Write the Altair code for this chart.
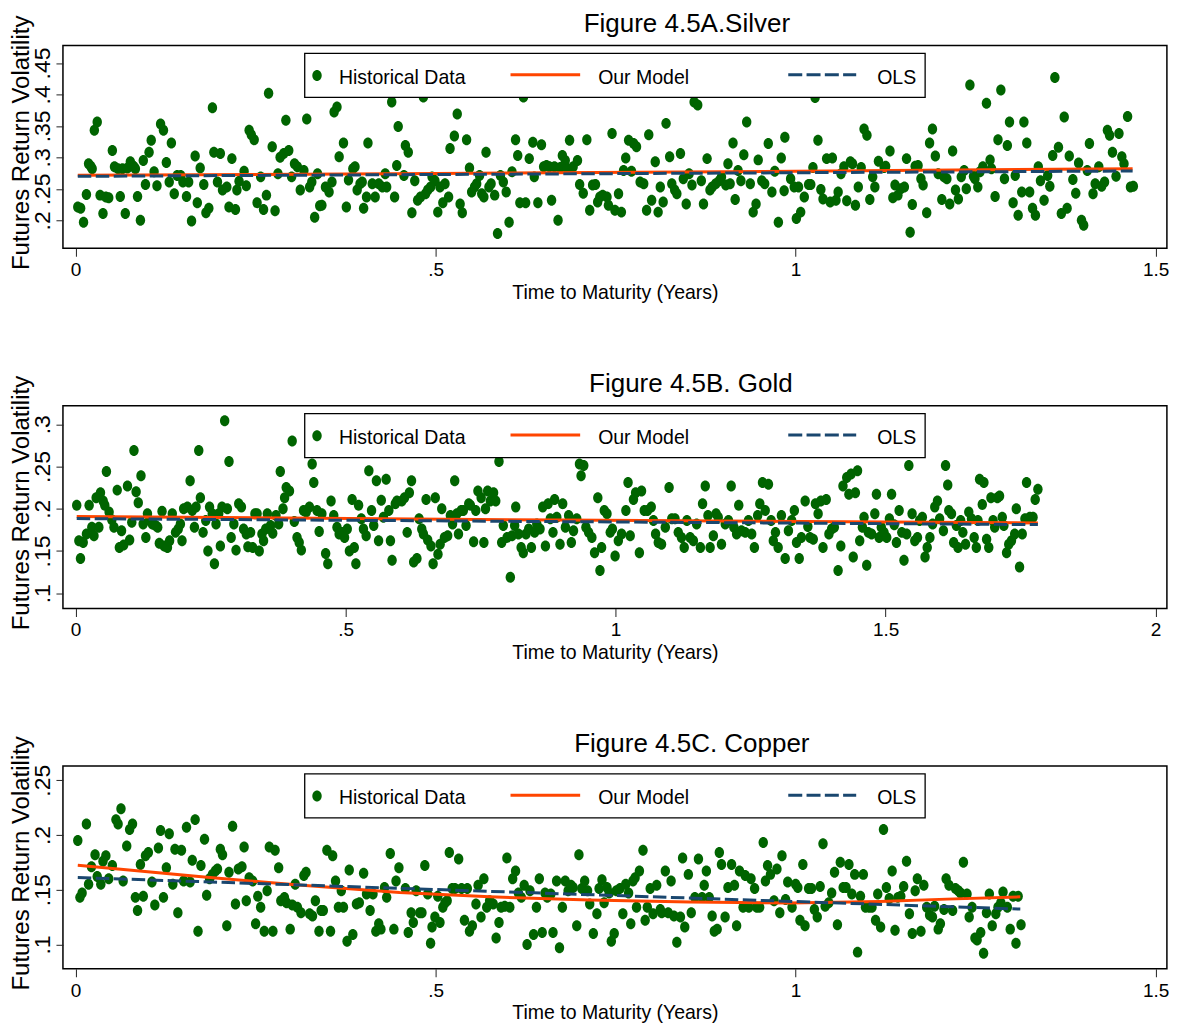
import altair as alt
import pandas as pd

# ---------------- data ----------------
SILVER_POINTS = [
[0.003,0.221],[0.007,0.219],[0.011,0.197],[0.015,0.241],[0.018,0.290],[0.021,0.286],[0.023,0.282],[0.026,0.343],[0.030,0.356],[0.034,0.240],
[0.038,0.211],[0.042,0.237],[0.046,0.236],[0.051,0.311],[0.054,0.285],[0.059,0.282],[0.062,0.238],[0.065,0.282],[0.069,0.211],[0.072,0.283],
[0.076,0.293],[0.079,0.287],[0.081,0.285],[0.083,0.282],[0.086,0.238],[0.090,0.200],[0.094,0.295],[0.097,0.257],[0.102,0.308],[0.105,0.327],
[0.109,0.277],[0.113,0.255],[0.118,0.353],[0.122,0.343],[0.126,0.292],[0.130,0.261],[0.133,0.323],[0.137,0.242],[0.141,0.271],[0.146,0.271],
[0.149,0.261],[0.154,0.238],[0.157,0.261],[0.161,0.199],[0.166,0.302],[0.169,0.228],[0.173,0.283],[0.178,0.257],[0.181,0.212],[0.185,0.219],
[0.190,0.379],[0.192,0.308],[0.197,0.261],[0.201,0.306],[0.204,0.248],[0.210,0.253],[0.213,0.221],[0.217,0.298],[0.222,0.217],[0.224,0.248],
[0.227,0.262],[0.234,0.278],[0.237,0.255],[0.241,0.343],[0.244,0.336],[0.248,0.328],[0.252,0.228],[0.257,0.269],[0.261,0.217],[0.265,0.240],
[0.268,0.402],[0.273,0.317],[0.277,0.215],[0.281,0.274],[0.284,0.300],[0.289,0.306],[0.292,0.359],[0.296,0.311],[0.300,0.269],[0.304,0.290],
[0.308,0.285],[0.312,0.248],[0.317,0.279],[0.321,0.361],[0.325,0.253],[0.328,0.261],[0.332,0.205],[0.336,0.274],[0.339,0.223],[0.342,0.224],
[0.347,0.253],[0.352,0.245],[0.356,0.261],[0.359,0.372],[0.363,0.380],[0.366,0.301],[0.372,0.323],[0.376,0.221],[0.379,0.264],[0.385,0.282],
[0.388,0.285],[0.391,0.248],[0.395,0.258],[0.398,0.261],[0.400,0.219],[0.404,0.237],[0.406,0.323],[0.412,0.258],[0.416,0.237],[0.421,0.258],
[0.426,0.253],[0.430,0.274],[0.432,0.253],[0.439,0.388],[0.443,0.237],[0.446,0.287],[0.448,0.349],
[0.456,0.271],[0.458,0.319],[0.462,0.308],[0.467,0.212],[0.471,0.263],[0.475,0.232],[0.479,0.237],[0.483,0.396],[0.486,0.242],[0.489,0.248],
[0.493,0.253],[0.495,0.269],[0.499,0.263],[0.503,0.213],[0.506,0.253],[0.510,0.228],[0.513,0.258],[0.518,0.237],[0.520,0.314],[0.526,0.334],
[0.530,0.369],[0.534,0.226],[0.537,0.212],[0.543,0.328],[0.547,0.283],[0.550,0.245],[0.554,0.253],[0.557,0.258],[0.561,0.271],[0.564,0.242],
[0.567,0.237],[0.570,0.308],[0.574,0.253],[0.577,0.258],[0.582,0.240],[0.586,0.179],[0.590,0.271],[0.594,0.261],[0.598,0.245],[0.602,0.197],
[0.606,0.277],[0.611,0.328],[0.614,0.303],[0.617,0.228],[0.622,0.396],[0.625,0.228],[0.630,0.298],[0.635,0.324],[0.637,0.269],[0.642,0.228],
[0.647,0.320],[0.650,0.285],[0.654,0.287],[0.658,0.285],[0.661,0.232],[0.665,0.285],[0.670,0.200],[0.673,0.284],[0.676,0.303],[0.680,0.295],
[0.683,0.282],[0.686,0.327],[0.691,0.285],[0.697,0.295],[0.700,0.257],[0.705,0.243],[0.710,0.328],[0.714,0.216],[0.718,0.256],[0.722,0.257],
[0.725,0.229],[0.728,0.237],[0.732,0.240],[0.738,0.237],[0.740,0.224],[0.745,0.338],[0.749,0.216],[0.754,0.242],[0.758,0.213],[0.761,0.279],
[0.764,0.299],[0.768,0.327],[0.772,0.278],[0.775,0.322],[0.779,0.317],[0.784,0.261],[0.789,0.258],[0.793,0.216],[0.796,0.336],[0.800,0.232],
[0.805,0.293],[0.809,0.213],[0.812,0.253],[0.816,0.229],[0.820,0.354],[0.825,0.301],[0.828,0.258],[0.832,0.248],[0.835,0.242],[0.840,0.306],
[0.844,0.266],[0.848,0.226],[0.852,0.274],[0.856,0.256],[0.859,0.388],[0.864,0.383],[0.869,0.263],[0.872,0.226],[0.877,0.298],[0.881,0.248],
[0.884,0.253],[0.889,0.258],[0.894,0.263],[0.897,0.269],[0.903,0.256],[0.906,0.290],[0.909,0.258],[0.913,0.323],[0.916,0.233],[0.920,0.279],
[0.924,0.263],[0.928,0.304],[0.932,0.356],[0.937,0.258],[0.941,0.213],[0.945,0.226],[0.948,0.296],[0.953,0.263],[0.957,0.258],[0.962,0.322],
[0.967,0.245],[0.971,0.278],[0.976,0.197],[0.980,0.299],[0.985,0.332],
[0.984,0.247],[0.993,0.266],[0.998,0.253],[1.001,0.203],[1.004,0.253],[1.007,0.213],[1.012,0.237],[1.018,0.257],[1.021,0.257],[1.024,0.284],
[1.027,0.395],[1.031,0.327],[1.035,0.249],[1.038,0.234],[1.043,0.298],[1.048,0.229],[1.051,0.299],[1.056,0.232],[1.059,0.245],[1.063,0.274],
[1.067,0.285],[1.071,0.231],[1.076,0.293],[1.079,0.290],[1.083,0.224],[1.087,0.253],[1.091,0.284],[1.095,0.345],[1.099,0.335],[1.103,0.233],
[1.107,0.269],[1.110,0.253],[1.115,0.294],[1.123,0.284],[1.125,0.286],[1.131,0.310],[1.135,0.236],[1.138,0.256],[1.142,0.240],[1.146,0.250],
[1.151,0.253],[1.154,0.298],[1.159,0.181],[1.162,0.225],[1.166,0.286],[1.170,0.287],[1.174,0.266],[1.177,0.256],[1.182,0.212],[1.186,0.323],
[1.190,0.345],[1.194,0.302],[1.198,0.274],[1.203,0.233],[1.206,0.269],[1.210,0.266],[1.214,0.226],[1.218,0.310],[1.222,0.248],[1.226,0.234],
[1.230,0.269],[1.234,0.279],[1.237,0.250],[1.242,0.415],[1.247,0.270],[1.249,0.266],[1.253,0.253],[1.256,0.277],[1.260,0.285],[1.265,0.386],
[1.270,0.296],[1.272,0.282],[1.277,0.238],[1.281,0.328],[1.285,0.407],[1.290,0.266],[1.294,0.319],[1.297,0.356],[1.302,0.228],[1.305,0.271],
[1.309,0.208],[1.314,0.245],[1.317,0.356],[1.321,0.323],[1.325,0.245],[1.329,0.219],[1.333,0.208],[1.337,0.285],[1.340,0.263],[1.345,0.232],
[1.350,0.271],[1.353,0.254],[1.357,0.303],[1.360,0.427],[1.365,0.316],[1.369,0.211],[1.373,0.364],[1.377,0.219],[1.380,0.302],[1.385,0.265],
[1.389,0.243],[1.393,0.291],[1.397,0.200],[1.400,0.192],[1.405,0.279],[1.408,0.322],[1.413,0.242],[1.416,0.258],[1.421,0.285],[1.425,0.254],
[1.429,0.261],[1.433,0.343],[1.436,0.335],[1.440,0.308],[1.445,0.270],[1.449,0.338],[1.453,0.301],[1.456,0.290],[1.461,0.365],[1.465,0.253],
[1.469,0.254],
]
SILVER_MODEL_T = [0.003, 0.5, 1.0, 1.468]
SILVER_MODEL_V = [0.2714, 0.2745, 0.2780, 0.2820]
SILVER_OLS_T = [0.003, 1.468]
SILVER_OLS_V = [0.2699, 0.2783]

GOLD_POINTS = [
[0.002,0.204],[0.006,0.162],[0.009,0.141],[0.014,0.160],[0.020,0.170],[0.025,0.204],[0.030,0.178],[0.034,0.168],[0.038,0.213],[0.043,0.178],
[0.046,0.219],[0.051,0.209],[0.054,0.204],[0.057,0.244],[0.062,0.196],[0.067,0.187],[0.071,0.178],[0.077,0.222],[0.081,0.154],[0.085,0.174],
[0.089,0.157],[0.096,0.227],[0.100,0.163],[0.104,0.184],[0.108,0.269],[0.112,0.220],[0.116,0.207],[0.121,0.239],[0.125,0.182],[0.130,0.166],
[0.133,0.194],[0.137,0.186],[0.142,0.182],[0.148,0.180],[0.152,0.178],[0.155,0.159],[0.160,0.197],[0.164,0.156],[0.170,0.154],[0.174,0.162],
[0.179,0.194],[0.185,0.172],[0.190,0.176],[0.194,0.182],[0.197,0.162],[0.200,0.200],[0.207,0.202],[0.212,0.233],[0.216,0.198],[0.220,0.178],
[0.223,0.202],[0.228,0.269],[0.231,0.213],[0.236,0.172],[0.241,0.186],[0.245,0.150],[0.248,0.202],[0.253,0.194],[0.257,0.135],[0.260,0.182],
[0.265,0.194],[0.268,0.156],[0.271,0.202],[0.276,0.304],[0.281,0.200],[0.284,0.256],[0.288,0.166],[0.293,0.182],[0.297,0.151],[0.302,0.206],
[0.307,0.202],[0.311,0.176],[0.316,0.170],[0.319,0.155],[0.324,0.172],[0.328,0.154],[0.332,0.194],[0.336,0.194],[0.340,0.150],[0.345,0.170],
[0.348,0.162],[0.352,0.176],[0.355,0.194],[0.361,0.180],[0.365,0.171],[0.371,0.192],[0.376,0.182],[0.379,0.244],[0.384,0.200],[0.387,0.213],
[0.390,0.225],[0.396,0.221],[0.401,0.280],[0.405,0.185],[0.410,0.166],[0.414,0.160],[0.418,0.151],[0.422,0.198],[0.427,0.196],[0.433,0.202],
[0.438,0.253],[0.441,0.231],[0.447,0.198],[0.451,0.173],[0.456,0.194],[0.463,0.147],[0.467,0.135],[0.473,0.209],[0.478,0.192],[0.484,0.178],
[0.488,0.170],[0.493,0.172],[0.498,0.166],[0.503,0.176],[0.507,0.150],[0.512,0.211],[0.516,0.154],[0.519,0.135],[0.524,0.204],[0.529,0.188],
[0.533,0.176],[0.538,0.168],[0.543,0.245],[0.548,0.198],[0.552,0.180],[0.557,0.233],[0.561,0.162],[0.566,0.210],[0.570,0.190],[0.575,0.235],
[0.580,0.198],[0.583,0.162],[0.586,0.139],[0.592,0.206],[0.595,0.209],
[0.604,0.209],[0.609,0.213],[0.614,0.172],[0.618,0.219],[0.622,0.233],[0.626,0.137],[0.632,0.141],[0.636,0.188],[0.641,0.176],[0.644,0.170],
[0.649,0.211],[0.652,0.163],[0.658,0.156],[0.662,0.135],[0.666,0.213],[0.671,0.146],[0.675,0.158],[0.678,0.200],[0.683,0.166],[0.689,0.168],
[0.694,0.192],[0.698,0.182],[0.702,0.233],[0.706,0.194],[0.709,0.170],[0.714,0.198],[0.718,0.198],[0.723,0.180],[0.728,0.206],[0.731,0.204],
[0.737,0.161],[0.741,0.198],[0.745,0.221],[0.751,0.213],[0.756,0.160],[0.759,0.200],[0.763,0.221],[0.768,0.209],[0.774,0.219],[0.778,0.209],
[0.784,0.256],[0.789,0.160],[0.792,0.180],[0.799,0.166],[0.805,0.119],[0.808,0.168],[0.813,0.180],[0.815,0.202],[0.820,0.170],[0.825,0.154],
[0.829,0.148],[0.834,0.170],[0.839,0.176],[0.844,0.154],[0.850,0.172],[0.854,0.182],[0.860,0.176],[0.865,0.202],[0.870,0.156],[0.875,0.206],
[0.879,0.188],[0.884,0.172],[0.887,0.211],[0.891,0.190],[0.897,0.158],[0.902,0.206],[0.907,0.178],[0.913,0.192],[0.918,0.160],[0.922,0.174],
[0.928,0.188],[0.933,0.253],[0.936,0.239],[0.941,0.251],[0.945,0.178],[0.950,0.172],[0.956,0.166],[0.961,0.148],[0.967,0.213],[0.971,0.127],
[0.974,0.154],[0.979,0.198],[0.984,0.194],[0.990,0.172],[0.994,0.176],[0.999,0.144],[1.005,0.162],[1.011,0.170],[1.019,0.198],[1.023,0.231],
[1.027,0.168],[1.033,0.211],[1.037,0.219],[1.044,0.148],[1.048,0.221],[1.053,0.198],[1.059,0.198],[1.066,0.202],[1.070,0.186],[1.074,0.170],
[1.079,0.160],[1.085,0.158],[1.092,0.178],[1.099,0.225],[1.104,0.188],[1.110,0.188],[1.116,0.172],[1.122,0.166],[1.127,0.154],[1.132,0.186],
[1.138,0.166],[1.144,0.162],[1.150,0.182],[1.157,0.154],[1.161,0.206],[1.166,0.227],[1.171,0.192],[1.175,0.154],[1.181,0.168],[1.186,0.194],
[1.190,0.190],[1.196,0.158],[1.203,0.182],[1.209,0.186],[1.214,0.227],[1.219,0.178],[1.224,0.170],[1.228,0.204],[1.233,0.174],[1.240,0.172],
[1.246,0.186],[1.252,0.170],[1.257,0.154],[1.263,0.192],[1.267,0.206],[1.272,0.231],[1.277,0.198],[1.283,0.229],[1.288,0.186],[1.292,0.162],
[1.296,0.172],[1.301,0.154],[1.307,0.192],[1.314,0.141],
[1.320,0.174],[1.326,0.186],[1.331,0.198],[1.335,0.160],[1.340,0.141],[1.344,0.166],[1.351,0.209],[1.356,0.179],[1.360,0.166],[1.366,0.164],
[1.370,0.206],[1.375,0.194],[1.380,0.209],[1.384,0.154],[1.390,0.211],[1.395,0.170],[1.400,0.176],[1.405,0.178],[1.412,0.127],[1.417,0.156],
[1.421,0.227],[1.428,0.237],[1.432,0.217],[1.436,0.241],[1.440,0.143],[1.444,0.219],[1.448,0.245],[1.452,0.162],[1.457,0.178],[1.460,0.190],
[1.465,0.133],[1.468,0.172],[1.474,0.170],[1.480,0.194],[1.483,0.217],[1.488,0.166],[1.492,0.178],[1.497,0.172],[1.502,0.166],[1.507,0.188],
[1.511,0.217],[1.516,0.181],[1.520,0.160],[1.525,0.198],[1.530,0.172],[1.534,0.139],[1.539,0.170],[1.543,0.251],[1.549,0.194],[1.554,0.162],
[1.559,0.166],[1.563,0.186],[1.568,0.190],[1.573,0.143],[1.577,0.154],[1.582,0.166],[1.587,0.182],[1.591,0.202],[1.596,0.209],[1.600,0.188],
[1.607,0.174],[1.611,0.251],[1.615,0.228],[1.617,0.198],[1.622,0.194],[1.626,0.160],[1.631,0.180],[1.634,0.154],[1.639,0.186],[1.643,0.172],
[1.648,0.158],[1.654,0.196],[1.659,0.188],[1.664,0.166],[1.668,0.154],[1.671,0.186],[1.674,0.235],[1.679,0.205],[1.682,0.231],[1.687,0.164],
[1.691,0.154],[1.695,0.213],[1.699,0.186],[1.702,0.178],[1.707,0.213],[1.711,0.215],[1.716,0.190],[1.719,0.180],[1.724,0.148],[1.728,0.158],
[1.733,0.162],[1.739,0.170],[1.742,0.200],[1.748,0.131],[1.753,0.170],[1.758,0.188],[1.761,0.231],[1.767,0.190],[1.773,0.190],[1.777,0.211],
[1.782,0.223],
]
GOLD_MODEL_T = [0.002, 0.9, 1.782]
GOLD_MODEL_V = [0.1907, 0.1866, 0.1832]
GOLD_OLS_T = [0.002, 1.782]
GOLD_OLS_V = [0.1883, 0.1812]

COPPER_POINTS = [
[0.003,0.195],[0.006,0.143],[0.009,0.147],[0.015,0.210],[0.018,0.155],[0.022,0.171],[0.027,0.182],[0.030,0.162],[0.035,0.155],[0.038,0.176],
[0.042,0.181],[0.046,0.160],[0.051,0.172],[0.056,0.214],[0.059,0.210],[0.063,0.224],[0.066,0.158],[0.071,0.190],[0.075,0.205],[0.079,0.210],
[0.083,0.143],[0.086,0.131],[0.090,0.173],[0.094,0.144],[0.097,0.181],[0.101,0.184],[0.106,0.157],[0.110,0.136],[0.115,0.188],[0.118,0.204],
[0.122,0.143],[0.126,0.170],[0.130,0.201],[0.135,0.155],[0.138,0.187],[0.142,0.129],[0.147,0.186],[0.150,0.158],[0.154,0.207],[0.159,0.157],
[0.162,0.177],[0.166,0.214],[0.170,0.112],[0.174,0.172],[0.179,0.196],[0.182,0.145],[0.186,0.160],[0.190,0.164],[0.194,0.167],[0.197,0.169],
[0.201,0.187],[0.204,0.182],[0.210,0.117],[0.213,0.166],[0.218,0.208],[0.222,0.137],[0.226,0.169],[0.231,0.171],[0.234,0.189],[0.237,0.140],
[0.241,0.161],[0.246,0.158],[0.250,0.119],[0.253,0.144],[0.257,0.134],[0.262,0.112],[0.266,0.149],[0.269,0.189],[0.274,0.112],[0.277,0.186],
[0.282,0.170],[0.285,0.140],[0.290,0.143],[0.293,0.138],[0.298,0.114],[0.301,0.136],[0.305,0.155],[0.308,0.134],[0.313,0.129],[0.317,0.163],
[0.320,0.166],[0.325,0.128],[0.329,0.126],[0.333,0.140],[0.338,0.112],[0.341,0.131],[0.344,0.131],[0.349,0.186],[0.354,0.112],[0.357,0.181],
[0.361,0.158],[0.365,0.134],[0.369,0.149],[0.372,0.134],[0.377,0.103],[0.380,0.168],[0.385,0.109],[0.390,0.137],[0.394,0.138],[0.400,0.165],
[0.404,0.146],[0.409,0.131],[0.413,0.146],[0.417,0.112],[0.421,0.119],[0.424,0.114],[0.429,0.152],[0.432,0.143],[0.437,0.183],[0.442,0.114],
[0.445,0.158],[0.449,0.170],
[0.458,0.151],[0.462,0.111],[0.466,0.129],[0.469,0.120],[0.473,0.149],[0.478,0.129],[0.481,0.129],[0.485,0.172],[0.489,0.146],[0.493,0.101],
[0.495,0.116],[0.499,0.125],[0.503,0.144],[0.506,0.120],[0.510,0.134],[0.513,0.138],[0.516,0.140],[0.519,0.184],[0.523,0.151],[0.527,0.151],
[0.532,0.178],[0.536,0.151],[0.540,0.122],[0.544,0.151],[0.547,0.112],[0.551,0.117],[0.556,0.137],[0.559,0.154],[0.563,0.125],[0.567,0.160],
[0.571,0.134],[0.575,0.140],[0.580,0.137],[0.584,0.106],[0.588,0.120],[0.591,0.134],[0.596,0.135],[0.599,0.179],[0.603,0.134],[0.607,0.160],
[0.611,0.167],[0.615,0.147],[0.619,0.143],[0.623,0.154],[0.627,0.100],[0.631,0.149],[0.636,0.109],[0.640,0.134],[0.644,0.160],[0.648,0.111],
[0.652,0.147],[0.655,0.143],[0.660,0.146],[0.663,0.111],[0.668,0.158],[0.672,0.097],[0.676,0.134],[0.680,0.158],[0.684,0.149],[0.688,0.154],
[0.691,0.152],[0.696,0.117],[0.699,0.182],[0.703,0.151],[0.707,0.158],[0.711,0.149],[0.714,0.137],[0.719,0.110],[0.724,0.128],[0.727,0.151],
[0.731,0.159],[0.734,0.138],[0.738,0.152],[0.741,0.147],[0.744,0.103],[0.748,0.110],[0.751,0.149],[0.756,0.151],[0.760,0.128],[0.764,0.155],
[0.768,0.147],[0.771,0.119],[0.774,0.158],[0.777,0.161],[0.779,0.134],[0.783,0.167],[0.788,0.186],[0.791,0.122],[0.794,0.134],[0.798,0.151],
[0.802,0.128],[0.807,0.154],[0.812,0.132],[0.814,0.129],[0.819,0.167],[0.823,0.129],[0.827,0.158],[0.831,0.126],[0.835,0.102],[0.840,0.125],
[0.843,0.179],[0.846,0.116],[0.851,0.164],[0.855,0.129],[0.860,0.143],[0.865,0.178],[0.870,0.143],[0.873,0.154],[0.876,0.167],[0.880,0.143],
[0.884,0.126],[0.887,0.112],[0.891,0.114],[0.894,0.184],[0.897,0.173],[0.902,0.125],[0.906,0.152],[0.911,0.173],[0.915,0.154],[0.918,0.117],
[0.922,0.167],[0.927,0.134],[0.930,0.163],[0.935,0.134],[0.938,0.160],[0.943,0.151],[0.946,0.134],[0.950,0.134],[0.955,0.193],[0.958,0.158],
[0.961,0.172],[0.965,0.164],[0.970,0.140],[0.974,0.169],[0.978,0.129],[0.981,0.181],[0.986,0.141],[0.989,0.157],
[0.995,0.134],[1.000,0.155],[1.003,0.152],[1.006,0.122],[1.010,0.173],[1.013,0.117],[1.018,0.151],[1.022,0.151],[1.026,0.132],[1.030,0.125],
[1.034,0.153],[1.038,0.192],[1.041,0.135],[1.046,0.138],[1.050,0.147],[1.054,0.166],[1.058,0.118],[1.062,0.175],[1.066,0.152],[1.070,0.152],
[1.074,0.173],[1.078,0.146],[1.082,0.164],[1.086,0.093],[1.090,0.144],[1.094,0.164],[1.097,0.134],[1.102,0.134],[1.106,0.134],[1.111,0.122],
[1.114,0.146],[1.118,0.116],[1.122,0.205],[1.126,0.152],[1.130,0.142],[1.134,0.167],[1.138,0.113],[1.142,0.143],[1.146,0.144],[1.150,0.153],
[1.154,0.176],[1.158,0.128],[1.162,0.110],[1.166,0.149],[1.169,0.160],[1.174,0.112],[1.178,0.154],[1.182,0.134],[1.186,0.127],[1.190,0.125],
[1.193,0.135],[1.198,0.114],[1.201,0.119],[1.206,0.132],[1.209,0.160],[1.213,0.154],[1.218,0.131],[1.222,0.151],[1.226,0.149],[1.229,0.147],
[1.233,0.175],[1.238,0.146],[1.241,0.125],[1.245,0.134],[1.249,0.106],[1.252,0.104],[1.257,0.111],[1.261,0.092],[1.265,0.129],[1.269,0.146],
[1.273,0.117],[1.278,0.128],[1.281,0.134],[1.285,0.138],[1.288,0.148],[1.294,0.134],[1.298,0.114],[1.302,0.144],[1.306,0.101],[1.309,0.144],
[1.313,0.118],
]
COPPER_MODEL_T = [0.003, 0.171, 0.31, 0.45, 0.575, 0.714, 0.853, 0.992, 1.117, 1.21, 1.312]
COPPER_MODEL_V = [0.1724, 0.1620, 0.1542, 0.1475, 0.1435, 0.1405, 0.1387, 0.1378, 0.1392, 0.1414, 0.1435]
COPPER_OLS_T = [0.003, 1.312]
COPPER_OLS_V = [0.1611, 0.1323]

TITLES = ["Figure 4.5A.Silver", "Figure 4.5B. Gold", "Figure 4.5C. Copper"]
LEGEND_LABELS = ["Historical Data", "Our Model", "OLS"]
X_TITLE = "Time to Maturity (Years)"
Y_TITLE = "Futures Return Volatility"
X_TICKS_A = [0, 0.5, 1, 1.5]
X_TICKS_B = [0, 0.5, 1, 1.5, 2]
Y_TICKS_A = [0.2, 0.25, 0.3, 0.35, 0.4, 0.45]
Y_TICKS_B = [0.1, 0.15, 0.2, 0.25, 0.3]
Y_TICKS_C = [0.1, 0.15, 0.2, 0.25]

# ---------------- styling ----------------
GREEN = "#006400"
ORANGE = "#ff4500"
NAVY = "#1a476f"
FONT = "Liberation Sans, Arial, sans-serif"
ELLIPSE = "M-0.855,0A0.855,1,0,1,0,0.855,0A0.855,1,0,1,0,-0.855,0Z"
W, H = 1105, 203
LABEL_EXPR = "replace(format(datum.value, '.2~f'), '0.', '.')"


def one_row(label):
    return pd.DataFrame({"label": [label]})


def panel(points, mt, mv, ot, ov, xdom, ydom, xticks, yticks, title, title_x):
    x = alt.X("t:Q", title=X_TITLE,
              scale=alt.Scale(domain=xdom, nice=False, zero=False),
              axis=alt.Axis(values=xticks, labelExpr=LABEL_EXPR, grid=False, domain=False,
                            tickSize=8, tickColor="#222", tickWidth=1,
                            labelFont=FONT, labelFontSize=19, labelColor="black",
                            labelPadding=4.5, labelFlush=False, labelAngle=0,
                            titleFont=FONT, titleFontSize=19.5, titleFontWeight="normal",
                            titleColor="black", titlePadding=3.5))
    y = alt.Y("v:Q", title=Y_TITLE,
              scale=alt.Scale(domain=ydom, nice=False, zero=False),
              axis=alt.Axis(values=yticks, labelExpr=LABEL_EXPR, grid=False, domain=False,
                            tickSize=7, tickColor="#222", tickWidth=1,
                            labelFont=FONT, labelFontSize=23, labelColor="black",
                            labelAngle=270, labelAlign="center", labelBaseline="alphabetic",
                            labelPadding=6, labelFlush=False, labelOverlap=False,
                            titleFont=FONT, titleFontSize=24, titleFontWeight="normal",
                            titleColor="black", titleAngle=270, titleAlign="center",
                            titleBaseline="alphabetic", titleX=-34.4, titleY=97))
    pts = pd.DataFrame(points, columns=["t", "v"])
    scatter = alt.Chart(pts).mark_point(shape=ELLIPSE, filled=True, size=121, color=GREEN,
                                        opacity=1, strokeWidth=0).encode(x=x, y=y)
    model = alt.Chart(pd.DataFrame({"t": mt, "v": mv})).mark_line(
        color=ORANGE, strokeWidth=3).encode(x=x, y=y)
    ols = alt.Chart(pd.DataFrame({"t": ot, "v": ov})).mark_line(
        color=NAVY, strokeWidth=3, strokeDash=[13.5, 4.5]).encode(x=x, y=y)

    box = alt.Chart(one_row("")).mark_rect(fill="white", stroke="black", strokeWidth=1.3).encode(
        x=alt.value(242), x2=alt.value(863), y=alt.value(8), y2=alt.value(52))
    dot = alt.Chart(one_row(LEGEND_LABELS[0])).mark_point(
        shape=ELLIPSE, filled=True, size=121, color=GREEN, opacity=1, strokeWidth=0).encode(
        x=alt.value(254.3), y=alt.value(30))
    line1 = alt.Chart(one_row(LEGEND_LABELS[1])).mark_rule(color=ORANGE, strokeWidth=3).encode(
        x=alt.value(448), x2=alt.value(517.7), y=alt.value(29.3))
    line2 = alt.Chart(one_row(LEGEND_LABELS[2])).mark_rule(
        color=NAVY, strokeWidth=3, strokeDash=[14, 4.3]).encode(
        x=alt.value(726), x2=alt.value(794), y=alt.value(29.3))

    def txt(label, xpos):
        return alt.Chart(one_row(label)).mark_text(
            font=FONT, fontSize=19.5, color="black", align="left", baseline="alphabetic").encode(
            x=alt.value(xpos), y=alt.value(38.3), text="label:N")

    head = alt.Chart(one_row(title)).mark_text(
        font=FONT, fontSize=26, color="black", align="center", baseline="alphabetic").encode(
        x=alt.value(title_x), y=alt.value(-13.5), text="label:N")

    layers = [scatter, model, ols, box, dot, txt(LEGEND_LABELS[0], 276.2), line1,
              txt(LEGEND_LABELS[1], 535.7), line2, txt(LEGEND_LABELS[2], 815), head]
    return alt.layer(*layers).properties(width=W, height=H)


pA = panel(SILVER_POINTS, SILVER_MODEL_T, SILVER_MODEL_V, SILVER_OLS_T, SILVER_OLS_V,
           [-0.0176, 1.5156], [0.1556, 0.4778], X_TICKS_A, Y_TICKS_A, TITLES[0], 624.5)
pB = panel(GOLD_POINTS, GOLD_MODEL_T, GOLD_MODEL_V, GOLD_OLS_T, GOLD_OLS_V,
           [-0.0235, 2.0209], [0.0819, 0.3219], X_TICKS_B, Y_TICKS_B, TITLES[1], 628.5)
pC = panel(COPPER_POINTS, COPPER_MODEL_T, COPPER_MODEL_V, COPPER_OLS_T, COPPER_OLS_V,
           [-0.0176, 1.5156], [0.0778, 0.263], X_TICKS_A, Y_TICKS_C, TITLES[2], 629.5)

chart = alt.vconcat(pA, pB, pC, spacing=66.6).properties(
    padding={"left": 0, "top": 1, "right": -0.9, "bottom": 0}, background="white"
).configure_view(stroke="black", strokeWidth=1.5)

chart.save("out.html", embed_options={"renderer": "svg", "actions": False})
